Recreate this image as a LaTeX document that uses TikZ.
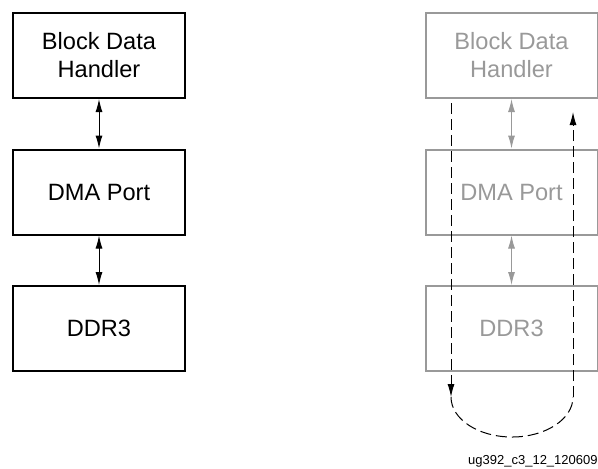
\documentclass[tikz,border=0pt]{standalone}
\usepackage{fontspec}
\setmainfont{Liberation Sans}
\usetikzlibrary{arrows.meta}

\tikzset{
  blk/.style={draw=black, line width=1pt, minimum width=86pt, minimum height=42.5pt,
    inner sep=0pt, align=center, font=\fontsize{11.8}{14}\selectfont},
  blkgray/.style={blk, draw=black!40, text=black!40},
  link/.style={{Latex[length=6.5pt,width=3.5pt]}-{Latex[length=6.5pt,width=3.5pt]}, line width=0.5pt},
  loopline/.style={dash pattern=on 5.5pt off 2.5pt, line width=0.5pt},
}

\begin{document}
\begin{tikzpicture}[x=0.5pt, y=-0.5pt]
  % page frame, 598 x 468 (in half points)
  \useasboundingbox (0,0) rectangle (598,468);
  % Left stack
  \node[blk] (bdhL) at (99,55.5) {Block Data\\Handler};
  \node[blk] (dmaL) at (99,192) {DMA Port};
  \node[blk] (ddrL) at (99,328.5) {DDR3};
  \draw[link] (bdhL) -- (dmaL);
  \draw[link] (dmaL) -- (ddrL);
  % Right stack (greyed out)
  \node[blkgray] (bdhR) at (511.5,55.5) {Block Data\\Handler};
  \node[blkgray] (dmaR) at (511.5,192) {DMA Port};
  \node[blkgray] (ddrR) at (511.5,328.5) {DDR3};
  \draw[link, black!40] (bdhR) -- (dmaR);
  \draw[link, black!40] (dmaR) -- (ddrR);
  % Loop-back path
  \coordinate (inTop) at (451,103);
  \coordinate (inBot) at (451,397);
  \coordinate (outBot) at (573,397);
  \coordinate (outTop) at (573,112);
  \draw[loopline, -{Latex[length=6.5pt,width=3.5pt]}] (inTop) -- (inBot);
  \draw[loopline] (inBot) arc[start angle=180, end angle=0, x radius=61, y radius=40];
  \draw[loopline, -{Latex[length=6.5pt,width=3.5pt]}] (outBot) -- (outTop);
  \node[font=\fontsize{6.5}{7}\selectfont, anchor=base east, inner sep=0pt] (fig) at (598,464) {ug392\_c3\_12\_120609};
\end{tikzpicture}
\end{document}
